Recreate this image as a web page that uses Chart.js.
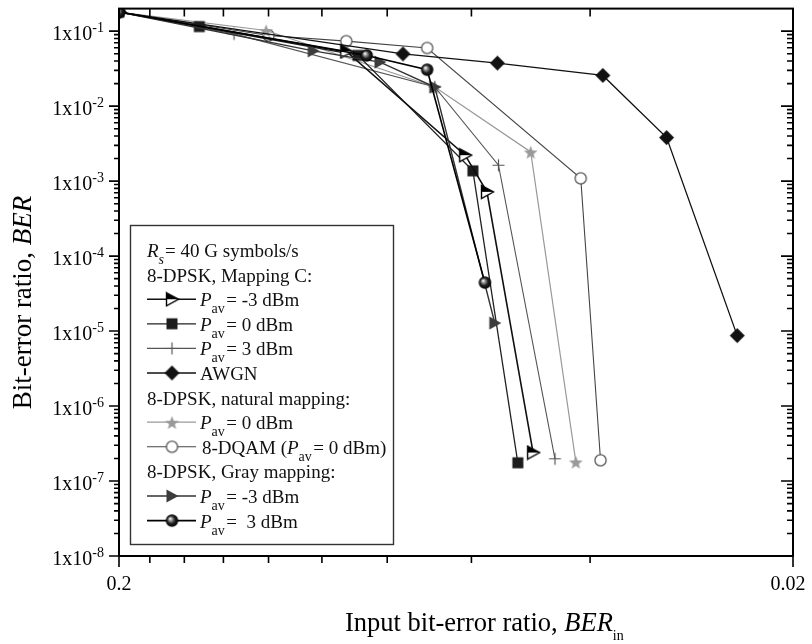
<!DOCTYPE html>
<html><head><meta charset="utf-8">
<script src="https://cdn.jsdelivr.net/npm/chart.js@4/dist/chart.umd.min.js"></script>
<style>
html,body{margin:0;padding:0;background:#fff;}
#wrap{width:812px;height:644px;position:relative;}
canvas{display:block;}
</style></head><body>
<div id="wrap"><canvas id="c" width="812" height="644"></canvas></div>
<script>
// ---------------- data ----------------
const xTickValues = [0.2, 0.18, 0.16, 0.14, 0.12, 0.1, 0.08, 0.06, 0.04, 0.02];
const xTickLabelValues = [0.2, 0.02];
const xTickLabels = ['0.2', '0.02'];
const yTickExponents = [-1, -2, -3, -4, -5, -6, -7, -8];

const mapCm3X = [0.2, 0.092, 0.0613, 0.0569, 0.0486];
const mapCm3Y = [0.18, 0.0537, 0.00222, 0.00072, 2.4e-7];
const mapC0X = [0.2, 0.152, 0.0884, 0.0597, 0.0512];
const mapC0Y = [0.18, 0.115, 0.0475, 0.00137, 1.75e-7];
const mapC3X = [0.2, 0.135, 0.068, 0.0547, 0.0451];
const mapC3Y = [0.18, 0.092, 0.018, 0.00163, 1.98e-7];
const awgnX = [0.2, 0.0758, 0.0549, 0.0383, 0.0308, 0.0242];
const awgnY = [0.18, 0.0497, 0.0375, 0.0257, 0.00381, 8.7e-6];
const natX = [0.2, 0.121, 0.068, 0.049, 0.042];
const natY = [0.18, 0.102, 0.018, 0.00245, 1.8e-7];
const dqamX = [0.2, 0.12, 0.092, 0.0698, 0.0413, 0.0386];
const dqamY = [0.18, 0.0877, 0.0736, 0.0597, 0.00109, 1.89e-7];
const grayM3X = [0.2, 0.103, 0.082, 0.068, 0.0554];
const grayM3Y = [0.18, 0.0545, 0.0387, 0.018, 1.28e-5];
const gray3X = [0.2, 0.0858, 0.0698, 0.0573];
const gray3Y = [0.18, 0.0475, 0.0306, 4.43e-5];

// ---------------- markers ----------------
function mk(size, draw){ const c=document.createElement('canvas'); c.width=size; c.height=size; const g=c.getContext('2d'); draw(g, size/2, size); return c; }
function triPath(g,c){ g.beginPath(); g.moveTo(c-5.5,c-6.5); g.lineTo(c+6.5,c); g.lineTo(c-5.5,c+6.5); g.closePath(); }
const M = {
  halfTri: mk(16,(g,c,s)=>{ triPath(g,c); g.fillStyle='#fff'; g.fill(); g.save(); triPath(g,c); g.clip(); g.fillStyle='#000'; g.fillRect(0,0,s,c); g.restore(); triPath(g,c); g.strokeStyle='#000'; g.lineWidth=1.4; g.stroke(); }),
  tri: mk(16,(g,c)=>{ triPath(g,c); g.fillStyle='#3c3c3c'; g.fill(); }),
  square: mk(14,(g,c)=>{ g.fillStyle='#1c1c1c'; g.fillRect(c-5.5,c-5.5,11,11); }),
  plus: mk(15,(g,c)=>{ g.strokeStyle='#555'; g.lineWidth=1.2; g.beginPath(); g.moveTo(c-6,c); g.lineTo(c+6,c); g.moveTo(c,c-6); g.lineTo(c,c+6); g.stroke(); }),
  diamond: mk(17,(g,c)=>{ g.fillStyle='#111'; g.beginPath(); g.moveTo(c,c-7.5); g.lineTo(c+7.5,c); g.lineTo(c,c+7.5); g.lineTo(c-7.5,c); g.closePath(); g.fill(); }),
  star: mk(17,(g,c)=>{ g.fillStyle='#999'; g.beginPath(); for(let k=0;k<10;k++){ const r=k%2?3:7.2; const a=-Math.PI/2+k*Math.PI/5; const px=c+r*Math.cos(a), py=c+1+r*Math.sin(a); k?g.lineTo(px,py):g.moveTo(px,py);} g.closePath(); g.fill(); }),
  circle: mk(15,(g,c)=>{ g.beginPath(); g.arc(c,c,5.6,0,Math.PI*2); g.fillStyle='#fff'; g.fill(); g.strokeStyle='#555'; g.lineWidth=1.3; g.stroke(); }),
  ball: mk(15,(g,c)=>{ const gr=g.createRadialGradient(c-2,c-2,0.3,c,c,6.2); gr.addColorStop(0,'#fff'); gr.addColorStop(0.25,'#999'); gr.addColorStop(0.6,'#222'); gr.addColorStop(1,'#000'); g.beginPath(); g.arc(c,c,6.2,0,Math.PI*2); g.fillStyle=gr; g.fill(); })
};

function zip(xs, ys){ return xs.map((x,i)=>({x:x, y:ys[i]})); }
function ds(label, xs, ys, color, width, marker){
  return {label, data: zip(xs, ys), showLine:true, borderColor:color, borderWidth:width,
    pointStyle: M[marker], pointRadius:7, pointHoverRadius:7, clip:0, _marker:marker};
}
// first dataset is drawn on top
const datasets = [
  ds('Gray, Pav = 3 dBm', gray3X, gray3Y, '#000', 1.6, 'ball'),
  ds('Gray, Pav = -3 dBm', grayM3X, grayM3Y, '#333', 1.4, 'tri'),
  ds('Mapping C, Pav = -3 dBm', mapCm3X, mapCm3Y, '#111', 1.6, 'halfTri'),
  ds('Mapping C, Pav = 0 dBm', mapC0X, mapC0Y, '#222', 1.3, 'square'),
  ds('Mapping C, Pav = 3 dBm', mapC3X, mapC3Y, '#555', 1.1, 'plus'),
  ds('AWGN', awgnX, awgnY, '#111', 1.3, 'diamond'),
  ds('natural, Pav = 0 dBm', natX, natY, '#999', 1.2, 'star'),
  ds('8-DQAM (Pav = 0 dBm)', dqamX, dqamY, '#444', 1.1, 'circle')
];
function byMarker(m){ return datasets.find(d=>d._marker===m); }

// ---------------- text helpers ----------------
const FF = '"Liberation Serif","Times New Roman",serif';
function drawRich(ctx, x, base, parts, size, subSize, subOff){
  for(const p of parts){
    const fs = p.sub ? subSize : size;
    ctx.font = (p.i ? 'italic ' : '') + fs + 'px ' + FF;
    ctx.fillText(p.t, x, base + (p.sub ? subOff : 0));
    x += ctx.measureText(p.t).width + (p.gap||0);
  }
  return x;
}
function richWidth(ctx, parts, size, subSize){
  let w=0; for(const p of parts){ ctx.font=(p.i?'italic ':'')+(p.sub?subSize:size)+'px '+FF; w+=ctx.measureText(p.t).width+(p.gap||0);} return w;
}
const P = (rest)=>[{t:'P',i:1},{t:'av',sub:1,gap:1.5},{t:rest}];
const legendRows = [
  {parts:[{t:'R',i:1},{t:'s',i:1,sub:1,gap:1},{t:'= 40 G symbols/s'}], x:147},
  {parts:[{t:'8-DPSK, Mapping C:'}], x:147},
  {marker:'halfTri', parts:P('= -3 dBm'), x:200},
  {marker:'square', parts:P('= 0 dBm'), x:200},
  {marker:'plus', parts:P('= 3 dBm'), x:200},
  {marker:'diamond', parts:[{t:'AWGN'}], x:200},
  {parts:[{t:'8-DPSK, natural mapping:'}], x:147},
  {marker:'star', parts:P('= 0 dBm'), x:200},
  {marker:'circle', parts:[{t:'8-DQAM ('},{t:'P',i:1},{t:'av',sub:1,gap:1.5},{t:'= 0 dBm)'}], x:202},
  {parts:[{t:'8-DPSK, Gray mapping:'}], x:147},
  {marker:'tri', parts:P('= -3 dBm'), x:200},
  {marker:'ball', parts:P('=  3 dBm'), x:200}
];

const decor = {
  id:'decor',
  afterDraw(chart){
    const ctx = chart.ctx, xs = chart.scales.x, ys = chart.scales.y;
    const {left, right, top, bottom} = chart.chartArea;
    ctx.save();
    ctx.fillStyle = '#000'; ctx.strokeStyle = '#000';
    // frame
    ctx.lineWidth = 2;
    ctx.strokeRect(left, top, right-left, bottom-top);
    // x ticks
    ctx.lineWidth = 1.6;
    ctx.beginPath();
    for(const v of xTickValues){
      const px = xs.getPixelForValue(v);
      const major = xTickLabelValues.includes(v);
      ctx.moveTo(px, bottom); ctx.lineTo(px, bottom + (major ? 11 : 7));
      if(!major){ ctx.moveTo(px, top); ctx.lineTo(px, top + 8); }
    }
    ctx.stroke();
    // y ticks
    ctx.beginPath();
    const ymax = ys.max;
    for(const e of yTickExponents){
      const py = ys.getPixelForValue(Math.pow(10,e));
      ctx.moveTo(left, py); ctx.lineTo(left-10, py);
      ctx.moveTo(right, py); ctx.lineTo(right-12, py);
      for(let m=2;m<=9;m++){
        const v = m*Math.pow(10,e);
        if(v >= ymax*0.999) continue;
        const q = ys.getPixelForValue(v);
        ctx.moveTo(left, q); ctx.lineTo(left-5, q);
        ctx.moveTo(right, q); ctx.lineTo(right-6, q);
      }
    }
    ctx.stroke();
    // y labels
    ctx.textAlign = 'left'; ctx.textBaseline = 'alphabetic';
    for(const e of yTickExponents){
      const py = ys.getPixelForValue(Math.pow(10,e));
      const sup = String(e);
      ctx.font = '14px '+FF; const sw = ctx.measureText(sup).width;
      ctx.font = '20px '+FF; const mw = ctx.measureText('1x10').width;
      const rx = 104;
      ctx.fillText('1x10', rx - sw - mw, py + 9);
      ctx.font = '14px '+FF;
      ctx.fillText(sup, rx - sw, py + 1);
    }
    // x labels
    ctx.font = '20px '+FF; ctx.textAlign = 'center';
    xTickLabelValues.forEach((v,i)=>{
      let px = xs.getPixelForValue(v);
      if(i===1) px -= 5;
      ctx.fillText(xTickLabels[i], px, 590);
    });
    ctx.textAlign = 'left';
    // x title
    drawRich(ctx, 345, 631, [{t:'Input bit-error ratio, '},{t:'BER',i:1},{t:'in',sub:1}], 26.5, 14, 9);
    // y title
    ctx.save();
    ctx.translate(31, 302.5); ctx.rotate(-Math.PI/2);
    const yt = [{t:'Bit-error ratio, '},{t:'BER',i:1}];
    const w = richWidth(ctx, yt, 27, 14);
    drawRich(ctx, -w/2, 0, yt, 27, 14, 9);
    ctx.restore();
    // legend
    ctx.fillStyle = '#fff';
    ctx.fillRect(130.5, 225.5, 263, 319);
    ctx.strokeStyle = '#333'; ctx.lineWidth = 1.4;
    ctx.strokeRect(130.5, 225.5, 263, 319);
    ctx.fillStyle = '#111';
    legendRows.forEach((r, k)=>{
      const base = 257 + k*24.6;
      if(r.marker){
        const d = byMarker(r.marker);
        const cy = base - 7;
        ctx.strokeStyle = d.borderColor; ctx.lineWidth = d.borderWidth;
        ctx.beginPath(); ctx.moveTo(147, cy); ctx.lineTo(196, cy); ctx.stroke();
        const img = M[r.marker];
        ctx.drawImage(img, 172 - img.width/2, cy - img.height/2);
      }
      drawRich(ctx, r.x, base, r.parts, 19, 14, 7);
    });
    ctx.restore();
  }
};

new Chart(document.getElementById('c').getContext('2d'), {
  type: 'scatter',
  data: { datasets },
  options: {
    responsive: false, animation: false, devicePixelRatio: 1, events: [],
    layout: { padding: { left: 119, right: 19, top: 7, bottom: 88 } },
    plugins: { legend: { display: false }, tooltip: { enabled: false } },
    scales: {
      x: { type: 'logarithmic', reverse: true, min: 0.02, max: 0.2, display: false },
      y: { type: 'logarithmic', min: 1e-8, max: 0.2, display: false }
    }
  },
  plugins: [decor]
});
</script>
</body></html>
